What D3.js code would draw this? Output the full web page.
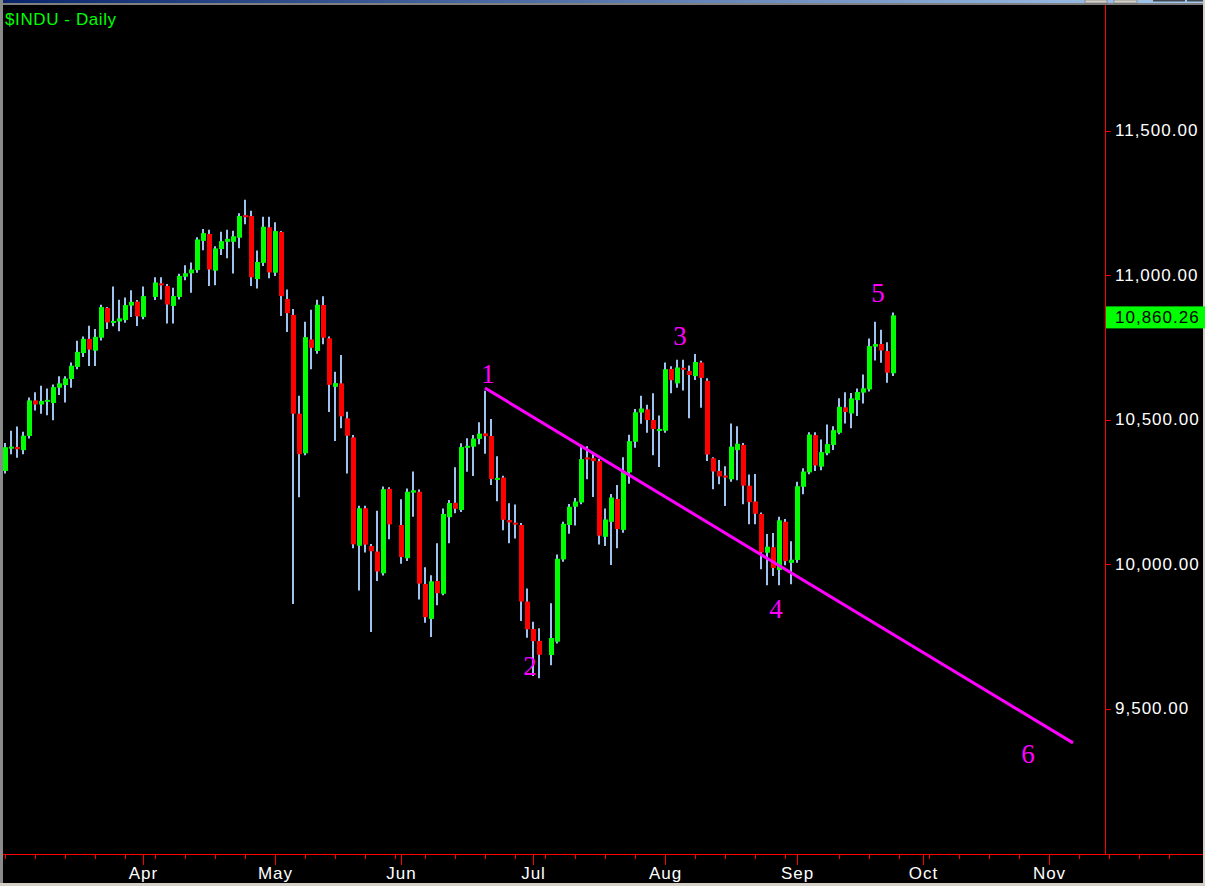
<!DOCTYPE html>
<html><head><meta charset="utf-8">
<script src="https://cdn.jsdelivr.net/npm/d3@7/dist/d3.min.js"></script>
<style>html,body{margin:0;padding:0;background:#000;overflow:hidden}</style>
</head><body><svg id="chart" width="1205" height="886"></svg>
<script>
// ---- trading-slot calendar (weekdays; holiday slots kept except Labor Day) ----
const calendarStart = "2010-03-01";
const calendarEnd = "2010-11-30";
const noSlotDays = ["2010-09-06"];

// ---- daily OHLC, one entry per slot from 2010-03-01 (null = holiday, no bar) ----
const open = [10322,10404,10405,10394,10443,10566,10552,10563,10557,10610,10619,10640,10682,10730,10779,10738,10783,10886,10835,10839,10844,10894,10908,10855,null,
10924,10971,10962,10893,10924,10994,11006,11017,11118,11142,11015,11090,11115,11115,11129,11207,11204,10986,11042,11165,
11008,11149,10917,10862,10520,10383,10777,10737,10896,10781,10613,10625,10504,10438,10063,10193,10062,10043,9968,10260,null,
10135,10020,10247,10250,9931,9810,9941,9897,10162,10212,10187,10403,10406,10433,10452,10443,10293,10299,10152,10143,10135,9870,
9775,9734,null,9685,9731,10016,10135,10198,10213,10369,10366,10356,10094,10146,10225,10118,10317,10423,10524,10535,10498,10462,
10461,10675,10625,10679,10668,10650,10697,10634,10366,10322,10306,10293,10394,10412,10271,10216,10173,10039,10058,9979,10146,10004,
10014,10267,10317,10446,10337,10383,10412,10454,10542,10521,10567,10593,10604,10752,10761,10737,10660];
const high = [10415,10458,10472,10454,10573,10591,10613,10604,10618,10646,10646,10694,10769,10784,10821,10810,10894,10886,10957,10911,10919,10944,10910,10957,null,
10989,10989,10965,10952,11001,11030,11040,11127,11156,11153,11096,11146,11153,11150,11210,11257,11219,11081,11198,11198,
11179,11149,10946,10879,10579,10835,10876,10911,10923,10784,10662,10720,10523,10443,10198,10198,10066,10181,10265,10262,null,
10221,10258,10317,10254,9985,9958,10068,10189,10218,10331,10414,10432,10443,10487,10596,10498,10369,10302,10207,10202,10138,9912,
9797,9774,null,9861,10029,10143,10204,10225,10409,10404,10383,10360,10189,10239,10270,10366,10444,10533,10579,10548,10587,10510,
10694,10681,10703,10703,10683,10723,10700,10639,10366,10356,10335,10483,10473,10415,10306,10308,10175,10100,10104,10160,10152,10075,
10281,10328,10452,10452,10427,10479,10473,10570,10591,10588,10604,10652,10777,10835,10807,10764,10867];
const low = [10317,10383,10371,10383,10438,10535,10523,10518,10501,10588,10562,10613,10677,10720,10689,10689,10777,10817,10826,10809,10838,10858,10827,10850,null,
10917,10919,10836,10836,10919,10985,10942,11011,11089,10965,10968,11073,11061,11009,11096,11179,10965,10957,11035,10992,
11000,10862,10806,9865,10234,10380,10677,10731,10764,10529,10429,10473,10317,10058,9912,10043,9768,9945,9964,10089,null,
10004,10014,10167,9881,9800,9751,9861,9895,10075,10179,10183,10323,10308,10418,10385,10277,10221,10120,10075,10092,9806,9748,
9616,9608,null,9653,9728,10011,10108,10137,10210,10297,10235,10071,10066,10000,10058,10112,10281,10406,10489,10458,10380,10339,
10458,10594,10613,10604,10508,10640,10544,10360,10262,10279,10204,10288,10293,10210,10141,10141,9985,9930,9962,9930,9999,9933,
10008,10245,10314,10325,10328,10380,10398,10452,10490,10473,10516,10559,10600,10708,10700,10631,10654];
const close = [10404,10406,10397,10444,10566,10552,10564,10568,10612,10625,10642,10686,10734,10779,10742,10786,10889,10836,10841,10850,10896,10907,10857,10927,null,
10974,10966,10898,10927,10997,11006,11019,11123,11145,11019,11092,11117,11125,11134,11204,11204,10992,11045,11167,11009,
11152,10927,10868,10520,10380,10785,10748,10897,10783,10620,10626,10511,10444,10068,10193,10067,10044,9974,10259,10137,null,
10024,10250,10255,9932,9816,9940,9899,10173,10211,10191,10405,10409,10434,10451,10442,10294,10298,10153,10144,10139,9870,9774,
9733,9686,null,9744,10018,10139,10198,10216,10363,10364,10356,10098,10154,10230,10121,10322,10425,10525,10538,10498,10467,10467,
10674,10636,10680,10675,10654,10699,10644,10379,10320,10303,10302,10406,10416,10271,10214,10174,10040,10060,9986,10151,10010,10015,
10269,10320,10448,10341,10387,10415,10463,10544,10526,10573,10595,10608,10754,10761,10739,10662,10860.26];

const yTickValues = [9500, 10000, 10500, 11000, 11500];
const monthNames = ["Apr","May","Jun","Jul","Aug","Sep","Oct","Nov"];
const chartTitle = "$INDU - Daily";

// trendline (magenta) endpoints
const trendDates = ["2010-06-21", "2010-11-05"];
const trendValues = [10609, 9381];

// wave labels
const waveLabels = ["1","2","3","4","5","6"];
const waveDates  = ["2010-06-21","2010-06-30","2010-08-04","2010-08-26","2010-09-21","2010-10-26"];
const waveValues = [10626, 9616, 10758, 9813, 10906, 9311];

// ---------------------------------------------------------------
const W = 1205, H = 886;
const svg = d3.select("#chart");
const fmt = d3.timeFormat("%Y-%m-%d");
const parse = d3.timeParse("%Y-%m-%d");

const slots = d3.timeDay.range(parse(calendarStart), d3.timeDay.offset(parse(calendarEnd), 1))
  .filter(d => d.getDay() > 0 && d.getDay() < 6 && !noSlotDays.includes(fmt(d)));
const slotKeys = slots.map(fmt);

const step = 6, x0 = 5;
const x = d3.scalePoint().domain(slotKeys).range([x0, x0 + step * (slotKeys.length - 1)]);
const y = d3.scaleLinear().domain([9500, 11500]).range([708.5, 130.5]);

const plotLeft = 3, plotRight = 1105, plotTop = 5, axisY = 854;

// background
svg.append("rect").attr("width", W).attr("height", H).attr("fill", "#000");

// window chrome
const defs = svg.append("defs");
const g1 = defs.append("linearGradient").attr("id","bar").attr("x1","0").attr("x2","1");
g1.append("stop").attr("offset","0").attr("stop-color","#0a246a");
g1.append("stop").attr("offset","1").attr("stop-color","#a6caf0");
svg.append("rect").attr("x",0).attr("y",0).attr("width",W).attr("height",3).attr("fill","url(#bar)");
svg.append("rect").attr("x",0).attr("y",3).attr("width",W).attr("height",2).attr("fill","#808080");
svg.append("rect").attr("x",0).attr("y",0).attr("width",3).attr("height",H).attr("fill","#8a8a8a");
svg.append("rect").attr("x",1203).attr("y",0).attr("width",2).attr("height",H).attr("fill","#d4d0c8");
svg.append("rect").attr("x",0).attr("y",883).attr("width",W).attr("height",3).attr("fill","#d4d0c8");
[[1085,22],[1114,23]].forEach(([bx,bw]) => svg.append("rect").attr("x",bx).attr("y",0).attr("width",bw).attr("height",3).attr("fill","#d4d0c8").attr("stroke","#606060").attr("stroke-width",0.5));
[[1153,32],[1187,16]].forEach(([bx,bw]) => svg.append("rect").attr("x",bx).attr("y",0).attr("width",bw).attr("height",1.5).attr("fill","#404850"));

// candles
const rows = slotKeys.map((k, i) => i < close.length && close[i] != null
  ? {key: k, o: open[i], h: high[i], l: low[i], c: close[i]} : null).filter(Boolean);

const cg = svg.append("g");
cg.selectAll("line.wick").data(rows).join("line")
  .attr("x1", d => x(d.key)).attr("x2", d => x(d.key))
  .attr("y1", d => y(d.h) - 1).attr("y2", d => y(d.l) + 1)
  .attr("stroke", "#9fc3ef").attr("stroke-width", 2);
cg.selectAll("rect.body").data(rows).join("rect")
  .attr("x", d => x(d.key) - 2).attr("width", 5)
  .attr("y", d => y(Math.max(d.o, d.c)))
  .attr("height", d => Math.max(2, Math.abs(y(d.o) - y(d.c))))
  .attr("fill", d => d.c >= d.o ? "#00ff00" : "#ff0000");

// trendline
svg.append("line")
  .attr("x1", x(trendDates[0])).attr("y1", y(trendValues[0]))
  .attr("x2", x(trendDates[1])).attr("y2", y(trendValues[1]))
  .attr("stroke", "#ff00ff").attr("stroke-width", 3);

// wave labels
svg.selectAll("text.wave").data(waveLabels).join("text")
  .attr("x", (d, i) => x(waveDates[i]) + 3).attr("y", (d, i) => y(waveValues[i]))
  .attr("text-anchor", "middle")
  .attr("font-family", "'Liberation Serif','Times New Roman',serif")
  .attr("font-size", 27).attr("fill", "#ff00ff").text(d => d);

// axes lines
svg.append("line").attr("x1", plotRight).attr("x2", plotRight).attr("y1", plotTop).attr("y2", axisY)
  .attr("stroke", "#ff0000").attr("stroke-width", 1).attr("shape-rendering","crispEdges");
svg.append("line").attr("x1", plotLeft).attr("x2", 1203).attr("y1", axisY + 0.5).attr("y2", axisY + 0.5)
  .attr("stroke", "#ff0000").attr("stroke-width", 1).attr("shape-rendering","crispEdges");

// y axis
const yAxis = svg.append("g").attr("transform", `translate(${plotRight},0)`)
  .call(d3.axisRight(y).tickValues(yTickValues).tickSize(6).tickPadding(4).tickFormat(d3.format(",.2f")));
yAxis.select(".domain").remove();
yAxis.selectAll(".tick line").attr("stroke", "#ff0000").attr("shape-rendering","crispEdges");
yAxis.selectAll(".tick text").attr("fill", "#ffffff")
  .attr("font-family", "'Liberation Sans',Arial,sans-serif").attr("font-size", 17)
  .style("letter-spacing", "1px");

// last value box
const lastClose = close[close.length - 1];
const by = y(lastClose) + 2;
svg.append("rect").attr("x", plotRight + 1).attr("y", by - 11).attr("width", W - plotRight - 1).attr("height", 22).attr("fill", "#00ff00");
svg.append("text").attr("x", 1115).attr("y", by).attr("dy", "0.35em")
  .attr("font-family", "'Liberation Sans',Arial,sans-serif").attr("font-size", 17)
  .style("letter-spacing", "1px").attr("fill", "#000").text(d3.format(",.2f")(lastClose));

// x axis: weekly minor ticks (Mondays) and monthly major ticks
const mondays = slotKeys.filter(k => parse(k).getDay() === 1);
const monthFirst = [];
slotKeys.forEach((k, i) => {
  const m = parse(k).getMonth();
  if (i > 0 && parse(slotKeys[i - 1]).getMonth() !== m) monthFirst.push(k);
});
const majorKeys = monthFirst.slice(0, monthNames.length);

const xMinor = svg.append("g").attr("transform", `translate(0,${axisY})`)
  .call(d3.axisBottom(x).tickValues(mondays).tickSize(5).tickFormat(""));
xMinor.select(".domain").remove();
xMinor.selectAll(".tick line").attr("stroke", "#ff0000").attr("shape-rendering","crispEdges");

const xMajor = svg.append("g").attr("transform", `translate(0,${axisY})`)
  .call(d3.axisBottom(x).tickValues(majorKeys).tickSize(11).tickPadding(2)
    .tickFormat((d, i) => monthNames[i]));
xMajor.select(".domain").remove();
xMajor.selectAll(".tick line").attr("stroke", "#ff0000").attr("shape-rendering","crispEdges");
xMajor.selectAll(".tick text").attr("fill", "#ffffff")
  .attr("font-family", "'Liberation Sans',Arial,sans-serif").attr("font-size", 17)
  .style("letter-spacing", "1px");

// title
svg.append("text").attr("x", 5).attr("y", 25)
  .attr("font-family", "'Liberation Sans',Arial,sans-serif").attr("font-size", 17)
  .style("letter-spacing", "0.6px").attr("fill", "#00ff00").text(chartTitle);
</script>
</body></html>
